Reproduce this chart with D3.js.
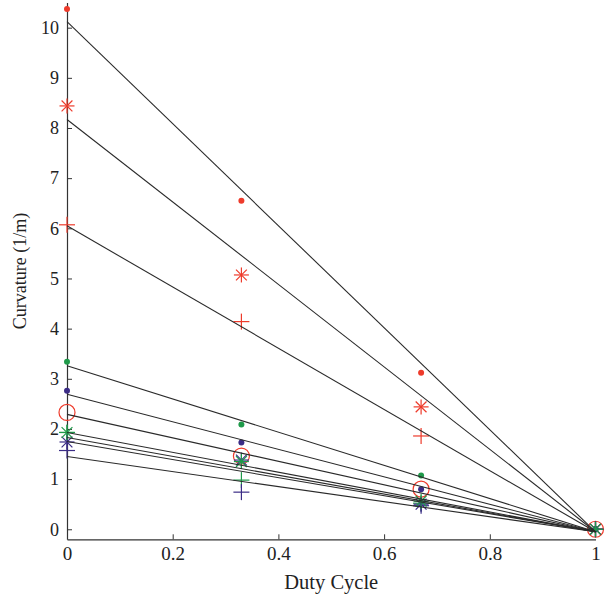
<!DOCTYPE html>
<html><head><meta charset="utf-8">
<script src="https://cdn.jsdelivr.net/npm/d3@7"></script>
<style>body{margin:0;background:#fff}svg{display:block}</style>
</head><body>
<svg id="c" width="613" height="603"></svg>
<script>
// Data
const dutyCycle = [0, 0.33, 0.67, 1];
const redDot     = [10.37, 6.55, 3.12, 0];
const redStar    = [8.44, 5.07, 2.44, 0];
const redPlus    = [6.07, 4.14, 1.86, 0];
const greenDot   = [3.34, 2.09, 1.07, 0];
const purpleDot  = [2.76, 1.73, 0.80, 0];
const redCircle  = [2.33, 1.46, 0.80, 0];
const greenStar  = [1.93, 1.35, 0.56, 0];
const purpleStar = [1.74, 1.38, 0.50, 0];
const greenPlus  = [1.93, 0.98, 0.52, 0];
const purplePlus = [1.57, 0.74, 0.47, 0];
// fitted lines: value at duty cycle 0 and at duty cycle 1
const fitStart = [10.12, 8.17, 6.05, 3.26, 2.69, 2.29, 1.93, 1.83, 1.75, 1.45];
const fitEnd   = [-0.05, -0.05, -0.05, -0.05, -0.05, -0.05, -0.05, -0.05, -0.05, -0.05];
const xTicks = [0, 0.2, 0.4, 0.6, 0.8, 1];
const yTicks = [0,1,2,3,4,5,6,7,8,9,10];

const RED = "#ee3b2b", GREEN = "#1f9a4a", PURPLE = "#3b2c86";
const series = [
  {v: redDot, c: RED, m: "dot"},
  {v: redStar, c: RED, m: "star"},
  {v: redPlus, c: RED, m: "plus"},
  {v: greenDot, c: GREEN, m: "dot"},
  {v: purpleDot, c: PURPLE, m: "dot"},
  {v: redCircle, c: RED, m: "circle"},
  {v: greenPlus, c: GREEN, m: "plus"},
  {v: purplePlus, c: PURPLE, m: "plus"},
  {v: purpleStar, c: PURPLE, m: "star"},
  {v: greenStar, c: GREEN, m: "star"}
];

const svg = d3.select("#c");
const x = d3.scaleLinear().domain([0, 1]).range([67, 595.5]);
const y = d3.scaleLinear().domain([-0.2, 10.5]).range([539.3, 2.6]);
const FONT = "'Liberation Serif','Times New Roman',serif";
const AX = "#333";

// axes
const gx = svg.append("g").attr("transform", `translate(0,${y(-0.2)})`)
  .call(d3.axisBottom(x).tickValues(xTicks).tickFormat(d3.format("")).tickSizeInner(-5).tickSizeOuter(0).tickPadding(7));
const gy = svg.append("g").attr("transform", `translate(${x(0)},0)`)
  .call(d3.axisLeft(y).tickValues(yTicks).tickSizeInner(-5).tickSizeOuter(0).tickPadding(8));
[gx, gy].forEach(g => {
  g.select(".domain").attr("stroke", AX).attr("stroke-width", 1.2);
  g.selectAll(".tick line").attr("stroke", AX).attr("stroke-width", 1);
  g.selectAll(".tick text").attr("font-family", FONT).attr("fill", "#222");
});
gx.selectAll(".tick text").attr("font-size", 19);
gy.selectAll(".tick text").attr("font-size", 18);
gx.select(".tick:first-of-type line").remove();
gx.select(".tick:last-of-type line").remove();

// markers
const mk = svg.append("g");
series.forEach(s => {
  s.v.forEach((val, i) => {
    const px = x(dutyCycle[i]), py = y(val);
    if (s.m === "dot") {
      mk.append("circle").attr("cx", px).attr("cy", py).attr("r", 3).attr("fill", s.c);
    } else if (s.m === "circle") {
      mk.append("circle").attr("cx", px).attr("cy", py).attr("r", 8).attr("fill", "none").attr("stroke", s.c).attr("stroke-width", 1.2);
    } else {
      const r = s.m === "star" ? 7.5 : 8;
      const segs = [[-r,0,r,0],[0,-r,0,r]];
      if (s.m === "star") { const d = r*0.72; segs.push([-d,-d,d,d],[-d,d,d,-d]); }
      segs.forEach(sg => mk.append("line")
        .attr("x1", px+sg[0]).attr("y1", py+sg[1]).attr("x2", px+sg[2]).attr("y2", py+sg[3])
        .attr("stroke", s.c).attr("stroke-width", 1.2));
    }
  });
});

// fitted lines
svg.append("g").selectAll("line").data(fitStart).join("line")
  .attr("x1", x(0)).attr("y1", d => y(d))
  .attr("x2", x(1)).attr("y2", (d, i) => y(fitEnd[i]))
  .attr("stroke", "#2a2a2a").attr("stroke-width", 1.1);

// axis titles
svg.append("text").attr("x", x(0.5)).attr("y", 589).attr("text-anchor", "middle")
  .attr("font-family", FONT).attr("font-size", 20.5).attr("fill", "#222").text("Duty Cycle");
svg.append("text").attr("transform", `translate(26,${y(5.15)}) rotate(-90)`).attr("text-anchor", "middle")
  .attr("font-family", FONT).attr("font-size", 18).attr("fill", "#222").text("Curvature (1/m)");
</script>
</body></html>
